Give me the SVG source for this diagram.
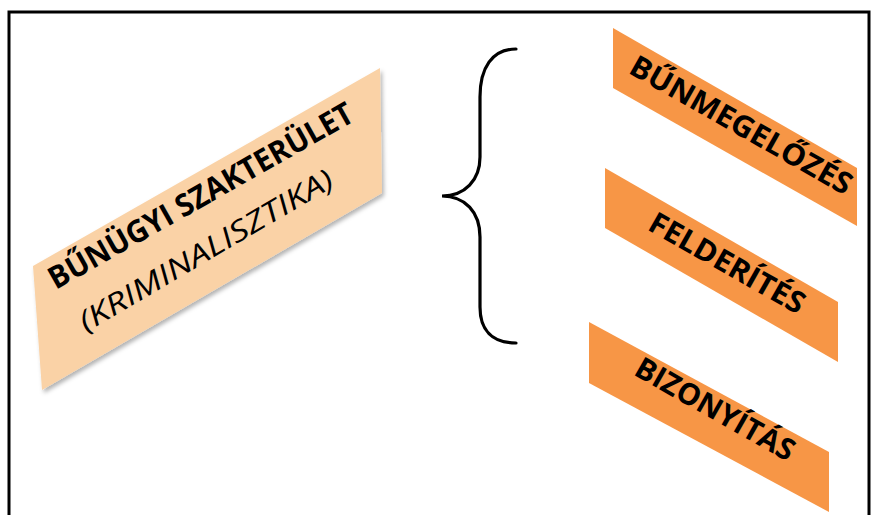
<svg xmlns="http://www.w3.org/2000/svg" width="878" height="515" viewBox="0 0 878 515">
  <style>
    .main { fill: #FAD2A6; }
    .sub { fill: #F79646; }
    .t { font-family: "Open Sans", "Liberation Sans", sans-serif; fill: #000; text-anchor: middle; }
    .b { font-weight: bold; }
    .i { font-style: italic; }
    .brace { fill: none; stroke: #000; stroke-width: 3.2; stroke-linecap: round; }
  </style>
  <defs>
    <filter id="sh" x="-10%" y="-10%" width="130%" height="130%">
      <feDropShadow dx="2" dy="3" stdDeviation="2" flood-color="#000" flood-opacity="0.3"/>
    </filter>
  </defs>
  <rect x="0" y="0" width="878" height="515" fill="#fff"/>
  <rect x="9" y="12" width="860" height="515" fill="none" stroke="#000" stroke-width="3"/>

  <g id="node-main">
    <polygon class="main" filter="url(#sh)" points="33,266 380,68 382,193 42,390"/>
    <text class="t b" font-size="31" textLength="345" lengthAdjust="spacingAndGlyphs" transform="translate(206,205) rotate(-29.5)">BŰNÜGYI SZAKTERÜLET</text>
    <text class="t i" font-size="29" textLength="290" lengthAdjust="spacingAndGlyphs" transform="translate(211,259) rotate(-30.5)">(KRIMINALISZTIKA)</text>
  </g>

  <g id="connectors">
    <path class="brace" d="M516,49 C492,49 480,68 480,97 L480,157 C480,180 465,196 442,196 C465,196 480,212 480,237 L480,307 C480,330 492,343 516,343"/>
  </g>

  <g id="node-bunmegelozes">
    <polygon class="sub" points="613,28 857,168 857,226 613,88"/>
    <text class="t b" font-size="30" textLength="250" lengthAdjust="spacingAndGlyphs" transform="translate(736,134) rotate(29.5)">BŰNMEGELŐZÉS</text>
  </g>

  <g id="node-felderites">
    <polygon class="sub" points="605,168 838,302 838,362 605,228"/>
    <text class="t b" font-size="30" textLength="174" lengthAdjust="spacingAndGlyphs" transform="translate(722,272) rotate(29.5)">FELDERÍTÉS</text>
  </g>

  <g id="node-bizonyitas">
    <polygon class="sub" points="589,322 829,452 829,512 589,383"/>
    <text class="t b" font-size="30" textLength="178" lengthAdjust="spacingAndGlyphs" transform="translate(710,418) rotate(29.5)">BIZONYÍTÁS</text>
  </g>
</svg>
